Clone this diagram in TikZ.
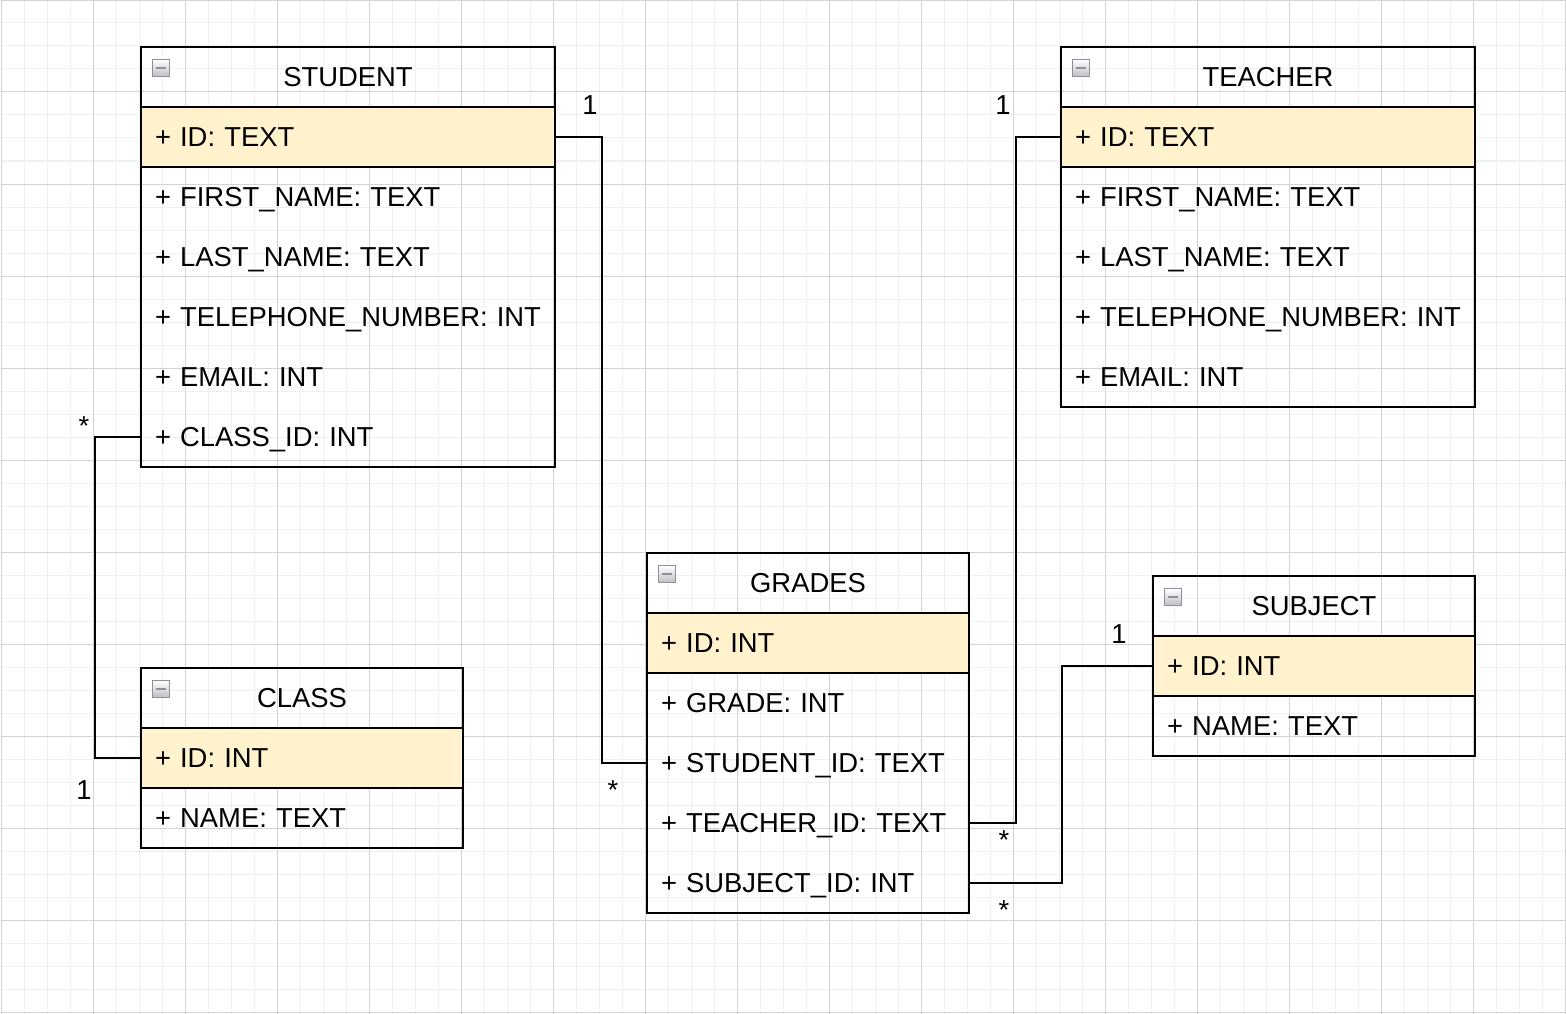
\documentclass[tikz,border=0pt]{standalone}
\usepackage{fontspec}
\setmainfont{Liberation Sans}
\usetikzlibrary{positioning}
\definecolor{keyfill}{HTML}{FFF2CC}
\definecolor{minorline}{HTML}{F0F0F0}
\definecolor{majorline}{HTML}{D3D3D3}
\definecolor{iconline}{HTML}{8A92A2}
\begin{document}
\begin{tikzpicture}[x=1pt,y=-1pt,
    every node/.style={font=\fontsize{27.4}{32}\selectfont, outer sep=0pt},
    field/.style={text width=#1, align=left, inner xsep=14pt, inner ysep=0pt,
      minimum height=60pt, text height=19.6pt, text depth=0pt},
    keyfield/.style={field=#1, draw, fill=keyfill, line width=2pt},
    title/.style={field=#1, align=center},
    frame/.style={line width=2.2pt},
    link/.style={line width=2pt},
    minus/.style={draw=iconline, line width=1.8pt, minimum size=17pt, inner sep=0pt,
      top color=white, bottom color=black!25,
      path picture={\draw[line width=2.6pt] ([xshift=3.5pt]path picture bounding box.west)
        -- ([xshift=-3.5pt]path picture bounding box.east);}}]
    \useasboundingbox (0,0) rectangle (1566,1014);

    % Background grid
    \draw[minorline, line width=1pt, xshift=1pt] (0,0) grid[step=23pt] (1565,1014);
    \draw[majorline, line width=1pt, xshift=1pt] (0,0) grid[step=92pt] (1565,1014);

    % STUDENT table
    \node[title=386pt, anchor=north west] (student) at (141,47) {STUDENT};
    \node[keyfield=386pt, below=0pt of student] (student-id) {+ ID: TEXT};
    \node[field=386pt, below=0pt of student-id] (student-fn) {+ FIRST\_NAME: TEXT};
    \node[field=386pt, below=0pt of student-fn] (student-ln) {+ LAST\_NAME: TEXT};
    \node[field=386pt, below=0pt of student-ln] (student-tel) {+ TELEPHONE\_NUMBER: INT};
    \node[field=386pt, below=0pt of student-tel] (student-mail) {+ EMAIL: INT};
    \node[field=386pt, below=0pt of student-mail] (student-cid) {+ CLASS\_ID: INT};
    \draw[frame] (student.north west) rectangle (student-cid.south east);
    \node[minus] (student-min) at ([shift={(20,21)}]student.north west) {};

    % TEACHER table
    \node[title=386pt, anchor=north west] (teacher) at (1061,47) {TEACHER};
    \node[keyfield=386pt, below=0pt of teacher] (teacher-id) {+ ID: TEXT};
    \node[field=386pt, below=0pt of teacher-id] (teacher-fn) {+ FIRST\_NAME: TEXT};
    \node[field=386pt, below=0pt of teacher-fn] (teacher-ln) {+ LAST\_NAME: TEXT};
    \node[field=386pt, below=0pt of teacher-ln] (teacher-tel) {+ TELEPHONE\_NUMBER: INT};
    \node[field=386pt, below=0pt of teacher-tel] (teacher-mail) {+ EMAIL: INT};
    \draw[frame] (teacher.north west) rectangle (teacher-mail.south east);
    \node[minus] (teacher-min) at ([shift={(20,21)}]teacher.north west) {};

    % CLASS table
    \node[title=294pt, anchor=north west] (class) at (141,668) {CLASS};
    \node[keyfield=294pt, below=0pt of class] (class-id) {+ ID: INT};
    \node[field=294pt, below=0pt of class-id] (class-name) {+ NAME: TEXT};
    \draw[frame] (class.north west) rectangle (class-name.south east);
    \node[minus] (class-min) at ([shift={(20,21)}]class.north west) {};

    % GRADES table
    \node[title=294pt, anchor=north west] (grades) at (647,553) {GRADES};
    \node[keyfield=294pt, below=0pt of grades] (grades-id) {+ ID: INT};
    \node[field=294pt, below=0pt of grades-id] (grades-grade) {+ GRADE: INT};
    \node[field=294pt, below=0pt of grades-grade] (grades-sid) {+ STUDENT\_ID: TEXT};
    \node[field=294pt, below=0pt of grades-sid] (grades-tid) {+ TEACHER\_ID: TEXT};
    \node[field=294pt, below=0pt of grades-tid] (grades-subid) {+ SUBJECT\_ID: INT};
    \draw[frame] (grades.north west) rectangle (grades-subid.south east);
    \node[minus] (grades-min) at ([shift={(20,21)}]grades.north west) {};

    % SUBJECT table
    \node[title=294pt, anchor=north west] (subject) at (1153,576) {SUBJECT};
    \node[keyfield=294pt, below=0pt of subject] (subject-id) {+ ID: INT};
    \node[field=294pt, below=0pt of subject-id] (subject-name) {+ NAME: TEXT};
    \draw[frame] (subject.north west) rectangle (subject-name.south east);
    \node[minus] (subject-min) at ([shift={(20,21)}]subject.north west) {};

    % Relations
    \draw[link] (student-id.east) -- ++(47,0) |- (grades-sid.west);
    \draw[link] (teacher-id.west) -- ++(-45,0) |- (grades-tid.east);
    \draw[link] (subject-id.west) -- ++(-91,0) |- (grades-subid.east);
    \draw[link] (student-cid.west) -- ++(-46,0) |- (class-id.west);

    % Multiplicities
    \node (m-s1) at (590,105) {1};
    \node (m-s2) at (613,790) {*};
    \node (m-t1) at (1003,105) {1};
    \node (m-t2) at (1004,840) {*};
    \node (m-j1) at (1119,634) {1};
    \node (m-j2) at (1004,910) {*};
    \node (m-c1) at (84,426) {*};
    \node (m-c2) at (84,790) {1};
  \end{tikzpicture}
\end{document}
